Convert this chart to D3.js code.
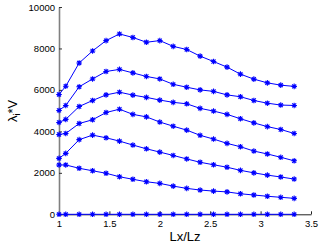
<!DOCTYPE html>
<html>
<head>
<meta charset="utf-8">
<script src="https://cdn.jsdelivr.net/npm/d3@7"></script>
<style>
  body { margin: 0; background: #fff; }
  text { font-family: "Liberation Sans", Arial, sans-serif; }
</style>
</head>
<body>
<div id="chart"></div>
<script>
// x positions (Lx/Lz)
var xs = [1, 1.067, 1.2, 1.333, 1.467, 1.6, 1.733, 1.867, 2, 2.133, 2.267, 2.4, 2.533, 2.667, 2.8, 2.933, 3.067, 3.2, 3.333];

// eigenvalue series
var s1 = [5780, 6180, 7300, 7880, 8380, 8700, 8530, 8300, 8380, 8100, 7950, 7630, 7370, 7100, 6760, 6520, 6340, 6230, 6170];
var s2 = [5010, 5250, 6150, 6530, 6890, 6990, 6820, 6650, 6530, 6270, 6130, 6000, 5930, 5760, 5670, 5490, 5360, 5270, 5250];
var s3 = [4430, 4580, 5200, 5490, 5760, 5890, 5750, 5640, 5510, 5400, 5330, 5110, 4980, 4820, 4610, 4410, 4230, 4090, 3900];
var s4 = [3850, 3900, 4380, 4560, 4910, 5070, 4820, 4700, 4450, 4250, 4060, 3810, 3630, 3420, 3260, 3050, 2910, 2750, 2580];
var s5 = [2700, 2940, 3600, 3820, 3690, 3530, 3340, 3160, 3000, 2840, 2670, 2510, 2390, 2270, 2120, 2000, 1890, 1800, 1700];
var s6 = [2380, 2380, 2220, 2100, 1980, 1810, 1690, 1570, 1490, 1360, 1250, 1170, 1120, 1080, 990, 930, 870, 820, 770];
var s7 = [0, 0, 0, 0, 0, 0, 0, 0, 0, 0, 0, 0, 0, 0, 0, 0, 0, 0, 0];

var series = [s1, s2, s3, s4, s5, s6, s7];
var xTicks = [1, 1.5, 2, 2.5, 3, 3.5];
var yTicks = [0, 2000, 4000, 6000, 8000, 10000];

var W = 319, H = 245;
var x0 = 59, x1 = 311, y0 = 214.3, y1 = 7;

var xScale = d3.scaleLinear().domain([1, 3.5]).range([x0, x1]);
var yScale = d3.scaleLinear().domain([0, 10000]).range([y0, y1]);

var svg = d3.select("#chart").append("svg")
    .attr("width", W)
    .attr("height", H);

// x axis
var xAxis = d3.axisBottom(xScale).tickValues(xTicks).tickFormat(d3.format("")).tickSizeInner(-3).tickSizeOuter(0);
var gx = svg.append("g")
    .attr("transform", "translate(0," + y0 + ")")
    .call(xAxis);
gx.select(".domain").attr("stroke", "#222").attr("stroke-width", 1);
gx.selectAll(".tick line").attr("stroke", "#222");
gx.selectAll(".tick text")
    .attr("y", 6)
    .attr("dy", "0.71em")
    .style("font-size", "9.5px")
    .attr("fill", "#000");

// y axis
var yAxis = d3.axisLeft(yScale).tickValues(yTicks).tickFormat(d3.format("d")).tickSizeInner(-3).tickSizeOuter(0);
var gy = svg.append("g")
    .attr("transform", "translate(" + x0 + ",0)")
    .call(yAxis);
gy.select(".domain").attr("stroke", "#808080").attr("stroke-width", 1.6);
gy.selectAll(".tick line").attr("stroke", "#333");
gy.selectAll(".tick text")
    .attr("x", -4)
    .style("font-size", "9.5px")
    .attr("fill", "#000");

// lines
var line = d3.line()
    .x(function(d, i) { return xScale(xs[i]); })
    .y(function(d) { return yScale(d); });

svg.selectAll(".trend")
    .data(series)
    .enter().append("path")
    .attr("class", "trend")
    .attr("d", line)
    .attr("fill", "none")
    .attr("stroke", "#0000ff")
    .attr("stroke-width", 1);

// asterisk markers (plus + cross)
var r = 2.8, q = r * 0.72;
var star = "M" + (-r) + ",0L" + r + ",0M0," + (-r) + "L0," + r +
    "M" + (-q) + "," + (-q) + "L" + q + "," + q +
    "M" + (-q) + "," + q + "L" + q + "," + (-q);

series.forEach(function(s) {
    svg.append("g").selectAll("path")
        .data(s)
        .enter().append("path")
        .attr("d", star)
        .attr("transform", function(d, i) { return "translate(" + xScale(xs[i]) + "," + yScale(d) + ")"; })
        .attr("fill", "none")
        .attr("stroke", "#0000ff")
        .attr("stroke-width", 1.1);
});

// labels
svg.append("text")
    .attr("x", 185)
    .attr("y", 241)
    .attr("text-anchor", "middle")
    .style("font-size", "13px")
    .text("Lx/Lz");

var yl = svg.append("text")
    .attr("transform", "translate(17,111) rotate(-90)")
    .attr("text-anchor", "middle")
    .style("font-size", "13px");
yl.append("tspan").text("\u03bb");
yl.append("tspan").attr("dy", 3).style("font-size", "9px").text("i");
yl.append("tspan").attr("dy", -3).text("*V");
</script>
</body>
</html>
